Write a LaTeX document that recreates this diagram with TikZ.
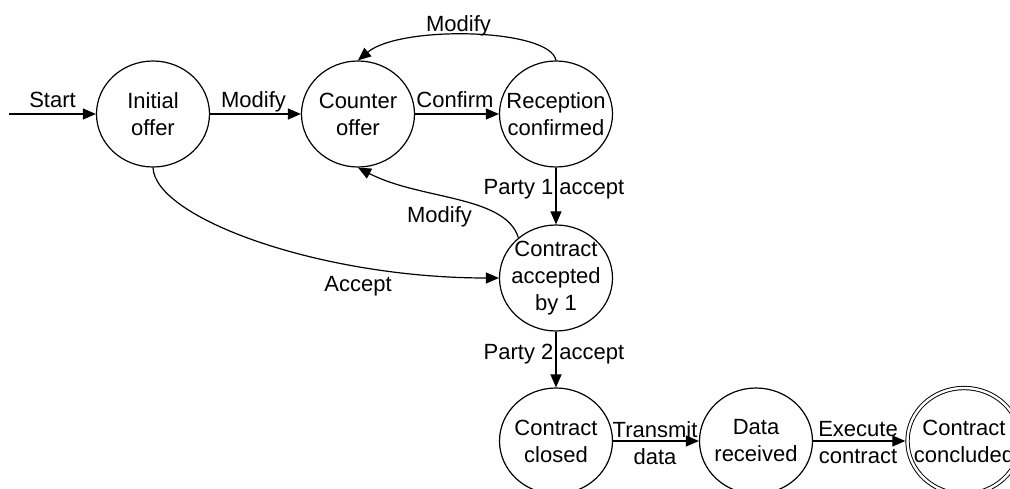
\documentclass[tikz,border=0pt]{standalone}
\usepackage{fontspec}
\setmainfont{Liberation Sans}
\usetikzlibrary{shapes.geometric,arrows.meta}

\begin{document}
\begin{tikzpicture}[x=1pt,y=-1pt,
  font=\fontsize{22}{27}\selectfont,
  stnode/.style={ellipse,draw,line width=1.2pt,minimum width=113pt,
    minimum height=106pt,inner xsep=-38pt,inner ysep=-6pt,align=center},
  finalnode/.style={stnode,double,double distance=2.4pt,line width=0.95pt,
    outer sep=2.2pt},
  conn/.style={line width=1.2pt,-{Triangle[length=13pt,width=11pt]}},
  lbl/.style={anchor=base,inner sep=0pt},
  lbltwo/.style={align=center,inner sep=0pt}]

\useasboundingbox (0,0) rectangle (1010,489);
\clip (0,0) rectangle (1010,489);

% states
\node[stnode] (init)    at (153,114) {Initial\\offer};
\node[stnode] (counter) at (358,114) {Counter\\offer};
\node[stnode] (recep)   at (556,114) {Reception\\confirmed};
\node[stnode] (acc1)    at (556,278) {Contract\\accepted\\by 1};
\node[stnode] (closed)  at (556,441) {Contract\\closed};
\node[stnode] (datarec) at (756,441) {Data\\received};
\node[finalnode] (concl) at (964,441) {Contract\\concluded};

% transitions
\coordinate (start) at (9,114);
\draw[conn] (start) -- (init);
\draw[conn] (init) -- (counter);
\draw[conn] (counter) -- (recep);
\draw[conn] (recep.north) .. controls (550,28) and (400,25) .. (counter.north);
\draw[conn] (recep) -- (acc1);
\draw[conn] (acc1.133) .. controls (505,195) and (420,200) .. (counter.south);
\draw[conn] (init.south) .. controls (155,218) and (320,278) .. (acc1.west);
\draw[conn] (acc1) -- (closed);
\draw[conn] (closed) -- (datarec);
\draw[conn] (datarec) -- (concl);

% transition labels
\node[lbl] (lStart) at (52.5,108) {Start};
\node[lbl] (lModA)  at (253.5,108) {Modify};
\node[lbl] (lConf)  at (455,108) {Confirm};
\node[lbl] (lModB)  at (458.5,31.5) {Modify};
\node[lbl] (lPone)  at (554,195) {Party 1 accept};
\node[lbl] (lModC)  at (439.5,223) {Modify};
\node[lbl] (lAcc)   at (358,292) {Accept};
\node[lbl] (lPtwo)  at (554,359) {Party 2 accept};
\node[lbltwo] (lTr) at (655,443) {Transmit\\data};
\node[lbltwo] (lEx) at (858,443) {Execute\\contract};
\end{tikzpicture}
\end{document}
